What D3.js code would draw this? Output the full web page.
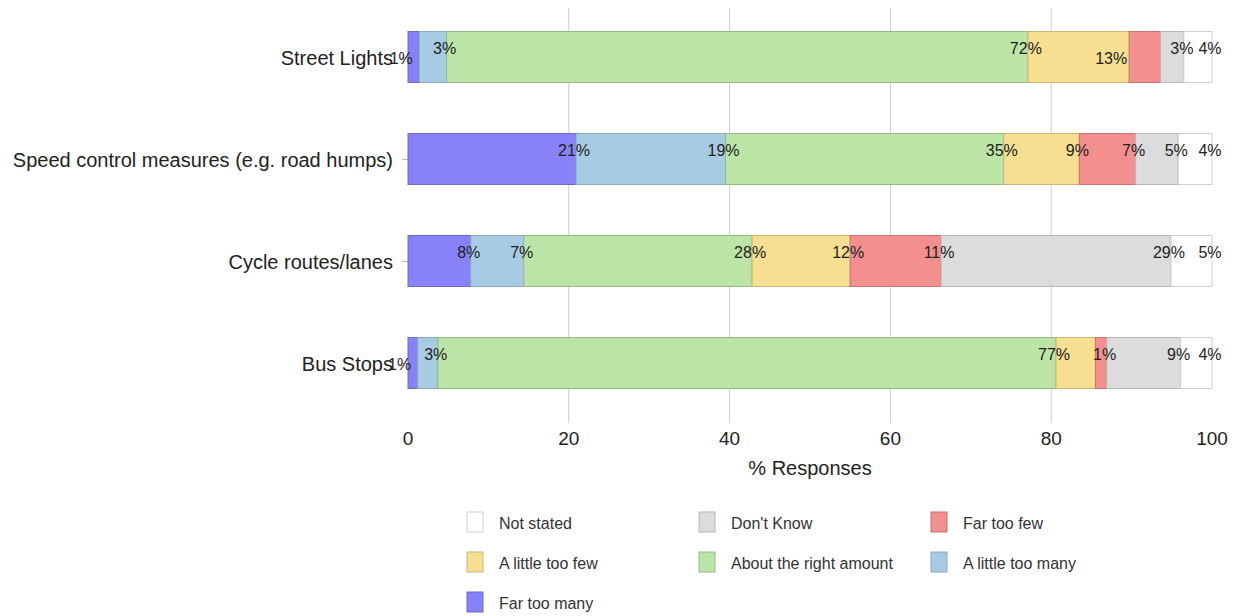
<!DOCTYPE html>
<html>
<head>
<meta charset="utf-8">
<script src="https://cdn.jsdelivr.net/npm/d3@7"></script>
<style>
  body { margin: 0; background: #fff; }
  text { font-family: "Liberation Sans", Arial, sans-serif; }
</style>
</head>
<body>
<svg id="chart" width="1239" height="616"></svg>
<script>
// categories top to bottom
var categories = ["Street Lights", "Speed control measures (e.g. road humps)", "Cycle routes/lanes", "Bus Stops"];

// stack order, left to right
var series = ["Far too many", "A little too many", "About the right amount", "A little too few", "Far too few", "Don't Know", "Not stated"];

// % per category, in series order
var streetLights = [1.4, 3.4, 72.3, 12.6, 3.9, 2.9, 3.5];
var speedControl = [20.9, 18.6, 34.6, 9.4, 7.0, 5.3, 4.2];
var cycleRoutes  = [7.8, 6.6, 28.4, 12.2, 11.3, 28.6, 5.1];
var busStops     = [1.2, 2.5, 76.9, 4.9, 1.4, 9.2, 3.9];

var xTicks = [0, 20, 40, 60, 80, 100];

// legend order (3 per row)
var legendOrder = ["Not stated", "Don't Know", "Far too few", "A little too few", "About the right amount", "A little too many", "Far too many"];

var fills   = ["#8782f8", "#a7cbe2", "#bce4a7", "#f6df91", "#f48f8f", "#dcdcdc", "#ffffff"];
var strokes = ["#6d69c8", "#8aa9bf", "#97bb86", "#cdb773", "#c97373", "#b7b7b7", "#cfcfcf"];

var values = [streetLights, speedControl, cycleRoutes, busStops];

var svg = d3.select("#chart");
var margin = {left: 408, right: 27, top: 8};
var plotW = 1239 - margin.left - margin.right;

var x = d3.scaleLinear().domain([0, 100]).range([margin.left, margin.left + plotW]);
var y = d3.scaleBand().domain(categories).range([6, 414]).paddingInner(0.5).paddingOuter(0.25);

var color = d3.scaleOrdinal().domain(series).range(fills);
var edge = d3.scaleOrdinal().domain(series).range(strokes);

// gridlines
svg.append("g")
  .selectAll("line")
  .data(xTicks.filter(function(d) { return d > 0 && d < 100; }))
  .join("line")
    .attr("x1", function(d) { return x(d); })
    .attr("x2", function(d) { return x(d); })
    .attr("y1", 8)
    .attr("y2", 423)
    .attr("stroke", "#cccccc")
    .attr("stroke-width", 1);

// x tick labels
svg.append("g")
  .selectAll("text")
  .data(xTicks)
  .join("text")
    .attr("x", function(d) { return x(d); })
    .attr("y", 445)
    .attr("text-anchor", "middle")
    .style("font-size", "19px")
    .attr("fill", "#222")
    .text(function(d) { return d; });

svg.append("text")
  .attr("x", x(50))
  .attr("y", 475)
  .attr("text-anchor", "middle")
  .style("font-size", "20px")
  .attr("fill", "#222")
  .text("% Responses");

// stacked data
var rows = categories.map(function(c, i) {
  var o = {cat: c};
  series.forEach(function(s, j) { o[s] = values[i][j]; });
  return o;
});
var stack = d3.stack().keys(series)(rows);

// y ticks + labels
var yAxis = svg.append("g");
yAxis.selectAll("line")
  .data(categories)
  .join("line")
    .attr("x1", margin.left - 6)
    .attr("x2", margin.left)
    .attr("y1", function(d) { return y(d) + y.bandwidth() / 2 + 0.5; })
    .attr("y2", function(d) { return y(d) + y.bandwidth() / 2 + 0.5; })
    .attr("stroke", "#bbbbbb");
yAxis.selectAll("text")
  .data(categories)
  .join("text")
    .attr("x", 393)
    .attr("y", function(d) { return y(d) + y.bandwidth() / 2 + 1; })
    .attr("dy", "0.35em")
    .attr("text-anchor", "end")
    .style("font-size", "20px")
    .attr("fill", "#222")
    .text(function(d) { return d; });

// bars
var layers = svg.append("g")
  .selectAll("g")
  .data(stack)
  .join("g")
    .attr("fill", function(d) { return color(d.key); })
    .attr("stroke", function(d) { return edge(d.key); });

layers.selectAll("rect")
  .data(function(d) { return d; })
  .join("rect")
    .attr("x", function(d) { return x(d[0]); })
    .attr("width", function(d) { return x(d[1]) - x(d[0]); })
    .attr("y", function(d) { return y(d.data.cat); })
    .attr("height", y.bandwidth())
    .attr("stroke-width", 1);

// value labels: some are nudged down or dropped where they crowd
var hidden = ["Street Lights|Far too few", "Bus Stops|A little too few"];
var nudged = ["Street Lights|Far too many", "Street Lights|A little too few", "Bus Stops|Far too many"];

var labels = [];
stack.forEach(function(layer) {
  layer.forEach(function(d) {
    var key = d.data.cat + "|" + layer.key;
    if (hidden.indexOf(key) >= 0) return;
    labels.push({key: key, cat: d.data.cat, end: d[1], v: d[1] - d[0], low: nudged.indexOf(key) >= 0});
  });
});

svg.append("g")
  .selectAll("text")
  .data(labels)
  .join("text")
    .attr("x", function(d) { return x(d.end) - (d.low ? 18 : 2); })
    .attr("y", function(d) { return y(d.cat) + (d.low ? 27 : 17); })
    .attr("dy", "0.35em")
    .attr("text-anchor", "middle")
    .style("font-size", "16px")
    .attr("fill", "#222")
    .text(function(d) { return Math.round(d.v) + "%"; });

// legend
var legend = svg.append("g")
  .selectAll("g")
  .data(legendOrder)
  .join("g")
    .attr("transform", function(d, i) {
      return "translate(" + (467 + (i % 3) * 232) + "," + (512 + Math.floor(i / 3) * 40) + ")";
    });

legend.append("rect")
  .attr("width", 16)
  .attr("height", 20)
  .attr("fill", function(d) { return color(d); })
  .attr("stroke", function(d) { return edge(d); });

legend.append("text")
  .attr("x", 32)
  .attr("y", 11)
  .attr("dy", "0.35em")
  .style("font-size", "16px")
  .attr("fill", "#333")
  .text(function(d) { return d; });
</script>
</body>
</html>
